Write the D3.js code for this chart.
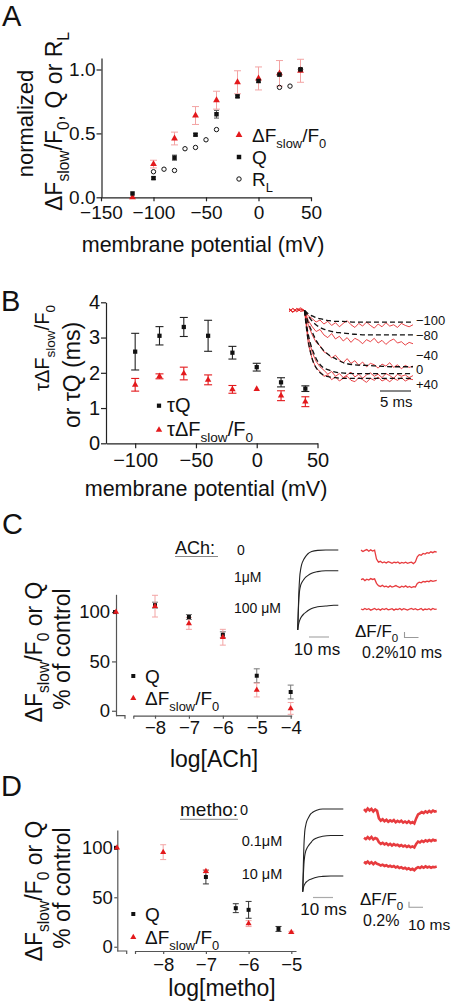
<!DOCTYPE html>
<html><head><meta charset="utf-8">
<script src="https://cdn.jsdelivr.net/npm/d3@7"></script>
<style>
body{margin:0;background:#fff;}
svg{display:block;font-family:"Liberation Sans",Arial,Helvetica,sans-serif;}
</style></head><body>
<svg id="fig" width="452" height="1006"></svg>
<script>
// ---------- Panel A data ----------
const vA = [-120,-100,-80,-60,-40,-20,0,20,40];
const dfA = [0.00,0.26,0.46,0.64,0.76,0.90,0.93,0.97,0.99];
const dfAerr = [0,0.03,0.05,0.07,0.07,0.09,0.09,0.10,0.09];
const qA = [0.03,0.15,0.31,0.49,0.65,0.79,0.91,0.96,1.00];
const qAerr = [0,0.01,0.02,0.01,0.03,0.01,0.01,0.01,0.01];
const rlV = [-100,-90,-80,-70,-60,-50,-40,20,30,40];
const rlA = [0.20,0.22,0.21,0.38,0.39,0.45,0.53,0.86,0.87,1.00];
const ticksAx = [-150,-100,-50,0,50];
const ticksAy = [0,0.5,1.0];

// ---------- Panel B data ----------
const vB = [-100,-80,-60,-40,-20,0,20,40];
const tauQ = [2.60,3.05,3.30,3.05,2.57,2.16,1.73,1.55];
const tauQerr = [0.52,0.26,0.27,0.44,0.18,0.11,0.13,0.08];
const tauDF = [1.66,1.90,1.98,1.80,1.53,1.54,1.35,1.18];
const tauDFerr = [0.18,0.07,0.18,0.14,0.11,0,0.14,0.14];
const ticksBx = [-100,-50,0,50];
const ticksBy = [0,1,2,3,4];
// inset B: fitted curves (time ms, normalised dF) and recorded traces
const fitT = [0,0.5,1,1.5,2,3,4,5,6,8,10,12,14,17.5];
const fitLabels = ["\u2212100","\u221280","\u221240","0","+40"];
const fitM100 = [0,-0.04,-0.07,-0.09,-0.11,-0.13,-0.15,-0.16,-0.16,-0.17,-0.17,-0.17,-0.17,-0.17];
const fitM80 = [0,-0.07,-0.13,-0.18,-0.22,-0.27,-0.30,-0.32,-0.33,-0.35,-0.36,-0.36,-0.36,-0.36];
const fitM40 = [0,-0.15,-0.27,-0.37,-0.46,-0.58,-0.66,-0.71,-0.76,-0.80,-0.81,-0.82,-0.83,-0.83];
const fit0 = [0,-0.30,-0.50,-0.63,-0.73,-0.84,-0.88,-0.91,-0.92,-0.93,-0.93,-0.93,-0.93,-0.93];
const fitP40 = [0,-0.39,-0.63,-0.78,-0.86,-0.95,-0.98,-0.99,-1.0,-1.0,-1.0,-1.0,-1.0,-1.0];
const recM100 = [-0.02,0.03,-0.01,0.02,0.0,-0.08,-0.12,-0.17,-0.14,-0.20,-0.16,-0.22,-0.18,-0.24,-0.19,-0.15,-0.21,-0.25,-0.19,-0.23,-0.17,-0.22,-0.26,-0.20,-0.24,-0.18,-0.23,-0.21,-0.25,-0.19,-0.22,-0.24,-0.21];
const recM80 = [0.02,-0.02,0.03,-0.01,0.0,-0.15,-0.24,-0.31,-0.28,-0.36,-0.40,-0.34,-0.42,-0.38,-0.45,-0.40,-0.47,-0.41,-0.44,-0.49,-0.43,-0.46,-0.41,-0.48,-0.44,-0.50,-0.45,-0.42,-0.48,-0.46,-0.51,-0.47,-0.49];
const recM40 = [-0.01,0.03,-0.02,0.02,0.0,-0.22,-0.36,-0.47,-0.52,-0.61,-0.64,-0.70,-0.66,-0.73,-0.77,-0.71,-0.78,-0.74,-0.81,-0.76,-0.83,-0.78,-0.80,-0.85,-0.79,-0.82,-0.77,-0.84,-0.80,-0.86,-0.81,-0.84,-0.82];
const rec0 = [0.03,-0.02,0.01,0.04,0.0,-0.40,-0.62,-0.75,-0.83,-0.88,-0.94,-0.90,-0.97,-0.93,-0.99,-0.95,-0.91,-0.98,-0.94,-1.00,-0.95,-0.92,-0.97,-0.94,-0.99,-0.93,-0.96,-1.00,-0.94,-0.97,-0.95,-0.99,-0.96];
const recP40 = [0.02,-0.03,0.03,-0.01,0.0,-0.50,-0.72,-0.85,-0.90,-0.97,-0.95,-1.02,-0.98,-1.04,-1.00,-0.97,-1.03,-1.05,-0.99,-1.02,-1.06,-1.00,-1.03,-0.98,-1.04,-1.01,-1.05,-1.00,-1.03,-0.99,-1.04,-1.01,-1.02];

// ---------- Panel C data ----------
const logC = [-8,-7,-6,-5,-4];
const ticksC = [-8,-7,-6,-5,-4];
const ctrlC = 100;
const qC = [107,95,77,35.5,19];
const qCerr = [3,2.5,3,7,7];
const dfC = [106,88.5,74.5,21,2.4];
const dfCerr = [11,6,8,7,6];
const ticksCy = [0,50,100];
const achLabels = ["0","1\u03bcM","100 \u03bcM"];
// charge traces (time ms, fraction of control)
const qTraceT = [0,0.3,0.6,1,1.5,2,3,4,5,7,10,14,18,20.3];
const qTrC0 = [0,0.25,0.48,0.66,0.76,0.82,0.88,0.92,0.95,0.98,0.995,1.0,1.0,1.0];
const qTrC1 = [0,0.22,0.40,0.50,0.56,0.59,0.63,0.66,0.68,0.71,0.73,0.74,0.74,0.74];
const qTrC2 = [0,0.05,0.09,0.12,0.15,0.17,0.20,0.22,0.24,0.27,0.29,0.30,0.31,0.31];
// fluorescence traces (% dF/F0)
const fTrC0 = [0.02,-0.03,0.01,0.04,-0.02,0.03,-0.01,0.02,-0.30,-0.41,-0.38,-0.43,-0.40,-0.44,-0.39,-0.42,-0.45,-0.41,-0.43,-0.40,-0.46,-0.42,-0.44,-0.41,-0.45,-0.43,-0.41,-0.46,-0.40,-0.22,-0.14,-0.16,-0.10,-0.12,-0.07,-0.09,-0.04,-0.07,-0.03,-0.05];
const fTrC1 = [0.01,0.04,-0.02,0.03,0.00,0.05,0.02,0.04,-0.12,-0.20,-0.23,-0.19,-0.24,-0.22,-0.26,-0.21,-0.25,-0.23,-0.20,-0.24,-0.27,-0.22,-0.25,-0.21,-0.26,-0.23,-0.27,-0.24,-0.25,-0.12,-0.08,-0.10,-0.05,-0.07,-0.04,-0.06,-0.02,-0.05,-0.03,-0.01];
const fTrC2 = [0.01,-0.02,0.03,-0.01,0.02,-0.03,0.00,0.03,-0.02,0.01,-0.03,0.02,-0.01,0.03,-0.02,0.00,0.02,-0.03,0.01,-0.01,0.03,-0.02,0.02,0.00,-0.03,0.01,0.03,-0.01,0.02,-0.02,0.00,0.03,-0.03,0.01,-0.01,0.02,-0.02,0.03,0.00,0.01];

// ---------- Panel D data ----------
const ticksD = [-8,-7,-6,-5];
const ctrlD = 100;
const logDQ = [-7,-6.3,-6,-5.3];
const qD = [70.5,39,37.3,18];
const qDerr = [7,4.5,8.5,2.5];
const logDF = [-8,-7,-6,-5];
const dfD = [95.6,76.3,23.4,14.6];
const dfDerr = [7.5,1.5,3,1];
const ticksDy = [0,50,100];
const methoLabels = ["0","0.1\u03bcM","10 \u03bcM"];
const qTrD0 = [0,0.30,0.55,0.72,0.80,0.85,0.90,0.94,0.96,0.985,1.0,1.0,1.0,1.0];
const qTrD1 = [0,0.18,0.33,0.43,0.49,0.52,0.56,0.59,0.62,0.65,0.67,0.68,0.68,0.68];
const qTrD2 = [0,0.04,0.07,0.09,0.11,0.12,0.14,0.15,0.16,0.175,0.185,0.19,0.19,0.19];
const fTrD0 = [0.03,-0.04,0.05,-0.02,0.04,-0.05,0.02,-0.03,-0.30,-0.38,-0.33,-0.40,-0.35,-0.42,-0.37,-0.41,-0.36,-0.44,-0.39,-0.43,-0.38,-0.45,-0.41,-0.46,-0.40,-0.47,-0.43,-0.48,-0.30,-0.16,-0.12,-0.07,-0.11,-0.05,-0.09,-0.03,-0.08,-0.02,-0.06,-0.04];
const fTrD1 = [0.02,-0.03,0.04,-0.02,0.05,-0.04,0.01,-0.02,-0.14,-0.20,-0.16,-0.22,-0.18,-0.24,-0.20,-0.26,-0.21,-0.25,-0.23,-0.28,-0.24,-0.29,-0.26,-0.31,-0.27,-0.32,-0.29,-0.33,-0.20,-0.12,-0.15,-0.09,-0.13,-0.07,-0.11,-0.06,-0.10,-0.05,-0.08,-0.06];
const fTrD2 = [0.03,-0.02,0.04,-0.03,0.02,-0.05,0.01,-0.04,-0.06,-0.10,-0.07,-0.12,-0.09,-0.14,-0.11,-0.15,-0.12,-0.17,-0.14,-0.19,-0.16,-0.21,-0.18,-0.23,-0.20,-0.25,-0.22,-0.27,-0.20,-0.16,-0.19,-0.14,-0.18,-0.13,-0.17,-0.14,-0.18,-0.15,-0.16,-0.14];

// ---------- helpers ----------
const svg = d3.select('#fig');
const RED = '#e3191c', PINK = '#f3a4a4', INK = '#111';

function rich(parent, x, y, parts, fs, anchor, rotate) {
  const t = parent.append('text')
    .attr('transform', `translate(${x},${y})` + (rotate ? ' rotate(-90)' : ''))
    .attr('font-size', fs).attr('text-anchor', anchor || 'start').attr('fill', INK);
  let shift = 0;
  parts.forEach(p => {
    const s = typeof p === 'string' ? [p, false] : p;
    const target = s[1] ? fs * 0.3 : 0;
    const ts = t.append('tspan').attr('font-size', s[1] ? fs * 0.68 : fs).text(s[0]);
    if (target - shift !== 0) ts.attr('dy', target - shift);
    shift = target;
  });
  return t;
}
function styleAxis(g, col, fs) {
  g.selectAll('.domain').attr('stroke', col).attr('stroke-width', 1.2);
  g.selectAll('.tick line').attr('stroke', col).attr('stroke-width', 1.2);
  g.selectAll('.tick text').attr('font-size', fs).attr('fill', INK)
    .attr('font-family', '"Liberation Sans",Arial,sans-serif');
}
function errBars(g, xs, ys, es, xS, yS, col, cap, w) {
  const d = d3.range(xs.length).filter(i => es[i] > 0).map(i => [xS(xs[i]), yS(ys[i] - es[i]), yS(ys[i] + es[i])]);
  const gg = g.append('g').attr('stroke', col).attr('stroke-width', w || 1);
  gg.selectAll('.v').data(d).join('line').attr('x1', d => d[0]).attr('x2', d => d[0]).attr('y1', d => d[1]).attr('y2', d => d[2]);
  gg.selectAll('.c1').data(d).join('line').attr('x1', d => d[0] - cap / 2).attr('x2', d => d[0] + cap / 2).attr('y1', d => d[1]).attr('y2', d => d[1]);
  gg.selectAll('.c2').data(d).join('line').attr('x1', d => d[0] - cap / 2).attr('x2', d => d[0] + cap / 2).attr('y1', d => d[2]).attr('y2', d => d[2]);
}
function marks(g, xs, ys, xS, yS, type, size, fill, stroke) {
  g.append('g').selectAll('path').data(d3.zip(xs, ys)).join('path')
    .attr('transform', d => `translate(${xS(d[0])},${yS(d[1])})`)
    .attr('d', d3.symbol().type(type).size(size))
    .attr('fill', fill).attr('stroke', stroke || 'none').attr('stroke-width', stroke ? 1 : 0);
}
function legendMark(g, x, y, type, size, fill, stroke) {
  g.append('path').attr('transform', `translate(${x},${y})`).attr('d', d3.symbol().type(type).size(size))
    .attr('fill', fill).attr('stroke', stroke || 'none').attr('stroke-width', stroke ? 1 : 0);
}
const idt = d => d;

// ---------- Panel letters ----------
[['A', 2, 26], ['B', 1, 311], ['C', 2, 534], ['D', 1, 796]].forEach(p =>
  svg.append('text').attr('x', p[1]).attr('y', p[2]).attr('font-size', 29).attr('fill', INK).text(p[0]));

// ================= Panel A =================
{
  const g = svg.append('g');
  const x = d3.scaleLinear().domain([-150, 50]).range([101, 311]);
  const y = d3.scaleLinear().domain([0, 1.09]).range([197.3, 58]);
  const ax = g.append('g').attr('transform', 'translate(0,197.3)')
    .call(d3.axisBottom(x).tickValues(ticksAx).tickSize(4).tickSizeOuter(0).tickPadding(4.5));
  styleAxis(ax, '#222', 19);
  const ay = g.append('g').attr('transform', 'translate(101.5,0)')
    .call(d3.axisLeft(y).tickValues(ticksAy).tickFormat(d3.format('.1f')).tickSize(5).tickSizeOuter(0).tickPadding(1));
  styleAxis(ay, '#222', 19);
  errBars(g, vA, dfA, dfAerr, x, y, PINK, 7, 1);
  errBars(g, vA, qA, qAerr, x, y, '#555', 5, 1);
  g.append('g').selectAll('circle').data(d3.zip(rlV, rlA)).join('circle')
    .attr('cx', d => x(d[0])).attr('cy', d => y(d[1])).attr('r', 2.2)
    .attr('fill', 'none').attr('stroke', INK).attr('stroke-width', 1);
  marks(g, vA, dfA, x, y, d3.symbolTriangle, 20, RED);
  marks(g, vA, qA, x, y, d3.symbolSquare, 20, INK);
  // legend
  legendMark(g, 239, 135, d3.symbolTriangle, 20, RED);
  rich(g, 252, 142, ['\u0394F', ['slow', 1], '/F', ['0', 1]], 19);
  legendMark(g, 239, 157, d3.symbolSquare, 20, INK);
  rich(g, 252, 164, ['Q'], 19);
  g.append('circle').attr('cx', 239).attr('cy', 179).attr('r', 2.2).attr('fill', 'none').attr('stroke', INK);
  rich(g, 252, 186, ['R', ['L', 1]], 19);
  // titles
  rich(g, 33, 123.5, ['normalized'], 22, 'middle', true);
  rich(g, 62, 121.5, ['\u0394F', ['slow', 1], '/F', ['0', 1], ', Q or R', ['L', 1]], 23, 'middle', true);
  rich(g, 203, 252, ['membrane potential (mV)'], 21.5, 'middle');
}

// ================= Panel B =================
{
  const g = svg.append('g');
  const x = d3.scaleLinear().domain([-124, 50]).range([106, 317.5]);
  const y = d3.scaleLinear().domain([0, 4]).range([443.3, 302.3]);
  const ax = g.append('g').attr('transform', 'translate(0,443.3)')
    .call(d3.axisBottom(x).tickValues(ticksBx).tickSize(5).tickSizeOuter(0).tickPadding(5));
  styleAxis(ax, '#222', 20);
  const ay = g.append('g').attr('transform', 'translate(106,0)')
    .call(d3.axisLeft(y).tickValues(ticksBy).tickFormat(d3.format('d')).tickSize(5).tickSizeOuter(0).tickPadding(1));
  styleAxis(ay, '#222', 20);
  errBars(g, vB, tauQ, tauQerr, x, y, '#222', 8, 1.1);
  errBars(g, vB, tauDF, tauDFerr, x, y, RED, 8, 1.1);
  marks(g, vB, tauQ, x, y, d3.symbolSquare, 18, INK);
  marks(g, vB, tauDF, x, y, d3.symbolTriangle, 18, RED);
  legendMark(g, 159, 405.7, d3.symbolSquare, 18, INK);
  rich(g, 167, 412, ['\u03c4Q'], 20);
  legendMark(g, 159, 430, d3.symbolTriangle, 18, RED);
  rich(g, 167, 436, ['\u03c4\u0394F', ['slow', 1], '/F', ['0', 1]], 20);
  rich(g, 49, 348, ['\u03c4\u0394F', ['slow', 1], '/F', ['0', 1]], 20, 'middle', true);
  rich(g, 80, 375, ['or \u03c4Q (ms)'], 23, 'middle', true);
  rich(g, 206, 496, ['membrane potential (mV)'], 21.5, 'middle');

  // inset traces
  const xt = d3.scaleLinear().domain([-2.5, 17.5]).range([289, 413]);
  const xi = d3.scaleLinear().domain([0, 32]).range([289, 413]);
  const yi = d3.scaleLinear().domain([0, -1]).range([310.5, 378.3]);
  const recs = [recM100, recM80, recM40, rec0, recP40];
  const fits = [fitM100, fitM80, fitM40, fit0, fitP40];
  const lr = d3.line().x((d, i) => xi(i)).y(d => yi(d));
  g.append('g').selectAll('path').data(recs).join('path').attr('d', lr)
    .attr('fill', 'none').attr('stroke', RED).attr('stroke-width', 0.9).attr('opacity', 0.9);
  const lf = d3.line().x((d, i) => xt(fitT[i])).y(d => yi(d)).curve(d3.curveMonotoneX);
  g.append('g').selectAll('path').data(fits).join('path').attr('d', lf)
    .attr('fill', 'none').attr('stroke', INK).attr('stroke-width', 1.3).attr('stroke-dasharray', '5,3');
  const lblY = [325, 340, 360, 374, 389];
  fitLabels.forEach((t, i) => g.append('text').attr('x', 416).attr('y', lblY[i]).attr('font-size', 13).attr('fill', INK).text(t));
  g.append('line').attr('x1', 380).attr('x2', 411).attr('y1', 391).attr('y2', 391).attr('stroke', INK).attr('stroke-width', 1);
  g.append('text').attr('x', 380).attr('y', 407).attr('font-size', 15).attr('fill', INK).text('5 ms');
}

// ======== shared inset drawing for C and D ========
function drawInsets(g, cfg) {
  const xq = d3.scaleLinear().domain([0, 20.3]).range([cfg.qx0, cfg.qx0 + 40.6]);
  const yq = d3.scaleLinear().domain([0, 1]).range([cfg.qBase, cfg.qTop]);
  const lq = d3.line().x((d, i) => xq(qTraceT[i])).y(d => yq(d)).curve(d3.curveMonotoneX);
  g.append('g').selectAll('path').data(cfg.qTraces).join('path').attr('d', lq)
    .attr('fill', 'none').attr('stroke', '#222').attr('stroke-width', 1.1);
  g.append('line').attr('x1', cfg.sbx).attr('x2', cfg.sbx + 20).attr('y1', cfg.sby).attr('y2', cfg.sby)
    .attr('stroke', '#aaa').attr('stroke-width', 1.2);
  const xf = d3.scaleLinear().domain([0, 39]).range([cfg.fx0, cfg.fx1]);
  const yf = d3.scaleLinear().domain([0, -1]).range([0, 28]);
  const lf = d3.line().x((d, i) => xf(i)).y(d => yf(d));
  cfg.fTraces.forEach((tr, k) => {
    g.append('path').attr('transform', `translate(0,${cfg.fBase[k]})`).attr('d', lf(tr))
      .attr('fill', 'none').attr('stroke', RED).attr('stroke-width', cfg.fw).attr('opacity', 0.85);
  });
  g.append('path').attr('d', `M${cfg.lx},${cfg.ly - 5.6}V${cfg.ly}H${cfg.lx + 14}`)
    .attr('fill', 'none').attr('stroke', '#999').attr('stroke-width', 1.1);
}

// ================= Panel C =================
{
  const g = svg.append('g');
  const y = d3.scaleLinear().domain([-5, 118]).range([715.7, 594.3]);
  const x = d3.scaleLinear().domain([-8.64, -3.97]).range([133.3, 291.7]);
  const yAxX = 116, ctrlX = 115;
  const ay = g.append('g').attr('transform', `translate(${yAxX},0)`)
    .call(d3.axisLeft(y).tickValues(ticksCy).tickFormat(d3.format('d')).tickSize(4).tickSizeOuter(0).tickPadding(2));
  styleAxis(ay, '#555', 18.5);
  const ax = g.append('g').attr('transform', 'translate(0,715.7)')
    .call(d3.axisBottom(x).tickValues([-8.64].concat(ticksC)).tickFormat(d => d === -8.64 ? '' : d3.format('d')(d))
      .tickSize(3).tickSizeOuter(0).tickPadding(2.5));
  styleAxis(ax, '#555', 18.5);
  g.append('path').attr('d', `M${yAxX},715.7H125V718.7`).attr('fill', 'none').attr('stroke', '#555').attr('stroke-width', 1.2);
  errBars(g, logC, qC, qCerr, x, y, '#777', 6, 1);
  errBars(g, logC, dfC, dfCerr, x, y, PINK, 6, 1);
  marks(g, [ctrlX], [ctrlC], idt, y, d3.symbolSquare, 16, INK);
  marks(g, logC, qC, x, y, d3.symbolSquare, 16, INK);
  marks(g, [ctrlX + 1], [ctrlC], idt, y, d3.symbolTriangle, 16, RED);
  marks(g, logC, dfC, x, y, d3.symbolTriangle, 16, RED);
  legendMark(g, 133.3, 676, d3.symbolSquare, 16, INK);
  rich(g, 145, 683, ['Q'], 19);
  legendMark(g, 133.3, 698.3, d3.symbolTriangle, 16, RED);
  rich(g, 145, 705, ['\u0394F', ['slow', 1], '/F', ['0', 1]], 19);
  rich(g, 42, 652, ['\u0394F', ['slow', 1], '/F', ['0', 1], ' or Q'], 23, 'middle', true);
  rich(g, 70, 649, ['% of control'], 23, 'middle', true);
  rich(g, 214, 767, ['log[ACh]'], 23, 'middle');
  g.append('text').attr('x', 175).attr('y', 554).attr('font-size', 18).attr('fill', INK).text('ACh:');
  g.append('line').attr('x1', 175).attr('x2', 218).attr('y1', 556.5).attr('y2', 556.5).attr('stroke', '#888').attr('stroke-width', 1);
  const cy = [554.5, 581.5, 612.5], cx = [237, 234, 234];
  achLabels.forEach((t, i) => g.append('text').attr('x', cx[i]).attr('y', cy[i]).attr('font-size', 14).attr('fill', INK).text(t));
  drawInsets(g, {qx0: 297.7, qBase: 630, qTop: 550, qTraces: [qTrC0, qTrC1, qTrC2], sbx: 309, sby: 637,
    fx0: 361, fx1: 436.7, fTraces: [fTrC0, fTrC1, fTrC2], fBase: [550.7, 580, 609.3], fw: 1.3, lx: 404.5, ly: 637.5});
  g.append('text').attr('x', 317).attr('y', 655).attr('font-size', 17).attr('text-anchor', 'middle').attr('fill', INK).text('10 ms');
  rich(g, 355, 637, ['\u0394F/F', ['0', 1]], 17);
  g.append('text').attr('x', 362).attr('y', 658).attr('font-size', 16).attr('fill', INK).text('0.2%10 ms');
}

// ================= Panel D =================
{
  const g = svg.append('g');
  const y = d3.scaleLinear().domain([-4.3, 118]).range([951, 830]);
  const x = d3.scaleLinear().domain([-8.66, -4.89]).range([135, 296]);
  const yAxX = 117.3, ctrlX = 116;
  const ay = g.append('g').attr('transform', `translate(${yAxX},0)`)
    .call(d3.axisLeft(y).tickValues(ticksDy).tickFormat(d3.format('d')).tickSize(3).tickSizeOuter(0).tickPadding(1.5));
  styleAxis(ay, '#555', 18.5);
  const ax = g.append('g').attr('transform', 'translate(0,951)')
    .call(d3.axisBottom(x).tickValues([-8.66].concat(ticksD)).tickFormat(d => d === -8.66 ? '' : d3.format('d')(d))
      .tickSize(3).tickSizeOuter(0).tickPadding(4));
  styleAxis(ax, '#555', 18.5);
  g.append('path').attr('d', `M${yAxX},951H126.7V954`).attr('fill', 'none').attr('stroke', '#555').attr('stroke-width', 1.2);
  errBars(g, logDQ, qD, qDerr, x, y, '#333', 6, 1);
  errBars(g, logDF, dfD, dfDerr, x, y, PINK, 6, 1);
  marks(g, [ctrlX], [ctrlD], idt, y, d3.symbolSquare, 16, INK);
  marks(g, logDQ, qD, x, y, d3.symbolSquare, 16, INK);
  marks(g, [ctrlX + 1], [ctrlD], idt, y, d3.symbolTriangle, 16, RED);
  marks(g, logDF, dfD, x, y, d3.symbolTriangle, 16, RED);
  legendMark(g, 133.3, 914, d3.symbolSquare, 16, INK);
  rich(g, 145, 921, ['Q'], 19);
  legendMark(g, 133.3, 937.3, d3.symbolTriangle, 16, RED);
  rich(g, 145, 944, ['\u0394F', ['slow', 1], '/F', ['0', 1]], 19);
  rich(g, 42, 891, ['\u0394F', ['slow', 1], '/F', ['0', 1], ' or Q'], 23, 'middle', true);
  rich(g, 70, 888, ['% of control'], 23, 'middle', true);
  rich(g, 222, 996, ['log[metho]'], 23, 'middle');
  g.append('text').attr('x', 180).attr('y', 815.5).attr('font-size', 19).attr('fill', INK).text('metho:');
  g.append('line').attr('x1', 180).attr('x2', 238).attr('y1', 819.3).attr('y2', 819.3).attr('stroke', '#888').attr('stroke-width', 1);
  const cy = [815, 846, 879.3], cx = [240, 241.7, 241.7];
  methoLabels.forEach((t, i) => g.append('text').attr('x', cx[i]).attr('y', cy[i]).attr('font-size', 14.5).attr('fill', INK).text(t));
  drawInsets(g, {qx0: 302.7, qBase: 891.7, qTop: 809, qTraces: [qTrD0, qTrD1, qTrD2], sbx: 313, sby: 897.5,
    fx0: 364, fx1: 436.7, fTraces: [fTrD0, fTrD1, fTrD2], fBase: [810, 838.3, 862.7], fw: 2.6, lx: 409, ly: 907.3});
  g.append('text').attr('x', 323.5).attr('y', 915).attr('font-size', 17).attr('text-anchor', 'middle').attr('fill', INK).text('10 ms');
  rich(g, 360, 905, ['\u0394F/F', ['0', 1]], 17);
  g.append('text').attr('x', 363).attr('y', 926).attr('font-size', 16).attr('fill', INK).text('0.2%');
  g.append('text').attr('x', 408).attr('y', 930).attr('font-size', 15.5).attr('fill', INK).text('10 ms');
}
</script>
</body></html>
